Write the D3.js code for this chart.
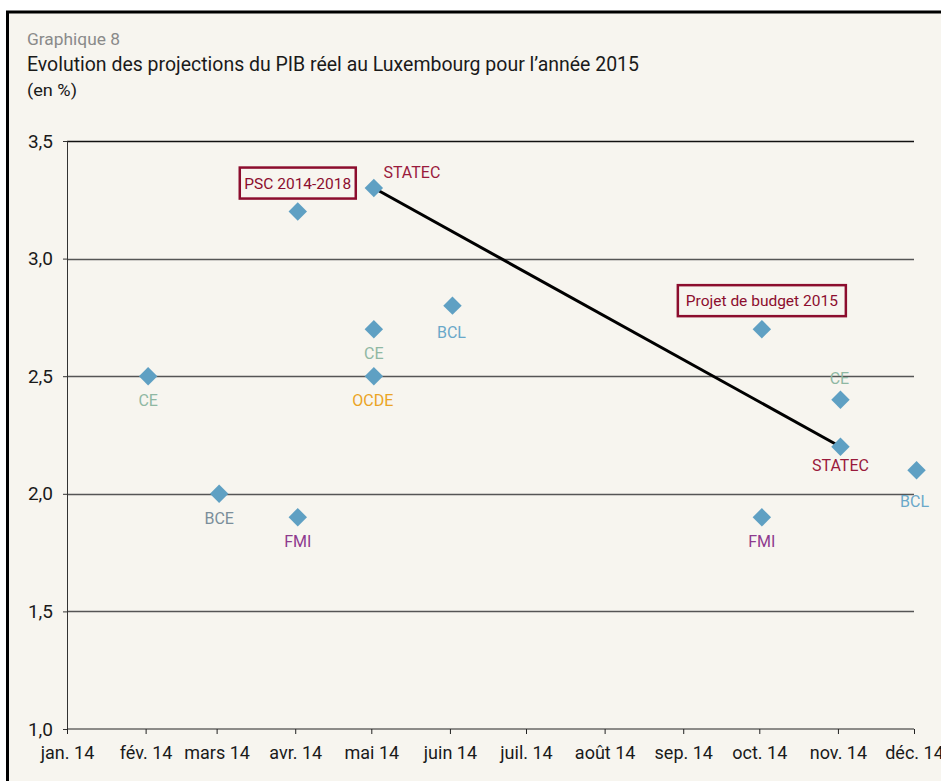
<!DOCTYPE html>
<html lang="fr">
<head>
<meta charset="UTF-8">
<script src="https://d3js.org/d3.v7.min.js"></script>
<title>Graphique 8</title>
<style>
  body { margin: 0; background: #fff; }
  text { font-family: Roboto, "DejaVu Sans", sans-serif; font-weight: 400; }
</style>
</head>
<body>
<svg class="chart"></svg>
<script>
// projections du PIB réel 2015 (en %)
const dates = ["2014-02-02", "2014-03-02", "2014-04-02", "2014-04-02", "2014-05-02", "2014-05-02", "2014-05-02",
               "2014-06-02", "2014-10-02", "2014-10-02", "2014-11-02", "2014-11-02", "2014-12-02"];
const values = [2.5, 2.0, 3.2, 1.9, 3.3, 2.7, 2.5, 2.8, 2.7, 1.9, 2.4, 2.2, 2.1];
const sources = ["CE", "BCE", "PSC", "FMI", "STATEC", "CE", "OCDE", "BCL", "PDB", "FMI", "CE", "STATEC", "BCL"];
const statecLine = [["2014-05-02", 3.3], ["2014-11-02", 2.2]];
const monthLabels = ["jan. 14", "fév. 14", "mars 14", "avr. 14", "mai 14", "juin 14",
                     "juil. 14", "août 14", "sep. 14", "oct. 14", "nov. 14", "déc. 14"];
const yTicks = [1.0, 1.5, 2.0, 2.5, 3.0, 3.5];

const colors = {
    CE: "#8fb8a3", BCE: "#7b8e9a", FMI: "#8e3a8e", STATEC: "#9a1a3c",
    OCDE: "#eba424", BCL: "#6aa8c9", PSC: "#8c0d2e", PDB: "#8c0d2e"
};

const width = 941, height = 781;
const margin = {left: 67, right: 27, top: 141, bottom: 52};
const parse = d3.timeParse("%Y-%m-%d");

const svg = d3.select(".chart").attr("width", width).attr("height", height);

// frame
svg.append("rect").attr("x", 7.5).attr("y", 12).attr("width", 950).attr("height", 800)
    .attr("fill", "#f7f5ef").attr("stroke", "#000").attr("stroke-width", 3);

svg.append("text").attr("x", 27).attr("y", 45).attr("font-size", 16).attr("fill", "#8a8a8a")
    .attr("textLength", 93).attr("lengthAdjust", "spacingAndGlyphs").text("Graphique 8");
svg.append("text").attr("x", 27).attr("y", 71).attr("font-size", 19.5).attr("fill", "#1a1a1a")
    .attr("textLength", 612).attr("lengthAdjust", "spacingAndGlyphs")
    .text("Evolution des projections du PIB réel au Luxembourg pour l’année 2015");
svg.append("text").attr("x", 27).attr("y", 96).attr("font-size", 17).attr("fill", "#1a1a1a")
    .attr("textLength", 50).attr("lengthAdjust", "spacingAndGlyphs").text("(en %)");

const x = d3.scaleTime()
    .domain([parse("2014-01-01"), parse("2014-12-01")])
    .range([margin.left, width - margin.right]);
const y = d3.scaleLinear().domain([1, 3.5]).range([height - margin.bottom, margin.top]);

// grid
svg.append("g").selectAll("line").data(yTicks.slice(1)).enter().append("line")
    .attr("x1", margin.left).attr("x2", 914)
    .attr("y1", d => Math.round(y(d)) + 0.5).attr("y2", d => Math.round(y(d)) + 0.5)
    .attr("stroke", d => d === 3.5 ? "#111" : "#555").attr("stroke-width", 1.3);

// y axis
const yAxis = svg.append("g").attr("transform", `translate(${margin.left},0)`)
    .call(d3.axisLeft(y).tickValues(yTicks).tickSize(4).tickPadding(10)
        .tickFormat(d => d3.format(".1f")(d).replace(".", ",")));
yAxis.select(".domain").attr("stroke", "#333");
yAxis.selectAll(".tick line").attr("stroke", "#333");
yAxis.selectAll("text").attr("font-size", 19).attr("fill", "#1a1a1a")
    .style("font-family", "Roboto, sans-serif");

// x axis
const months = monthLabels.map((m, i) => new Date(2014, i, 1));
const xAxis = svg.append("g").attr("transform", `translate(0,${y(1)})`)
    .call(d3.axisBottom(x).tickValues(months).tickSize(5).tickPadding(12)
        .tickFormat((d, i) => monthLabels[i]));
xAxis.select(".domain").attr("stroke", "#222").attr("d", `M${margin.left},0H914`);
xAxis.selectAll(".tick line").attr("stroke", "#222");
xAxis.selectAll("text").attr("font-size", 18).attr("fill", "#1a1a1a")
    .style("font-family", "Roboto, sans-serif");

// STATEC line
svg.append("path")
    .datum(statecLine)
    .attr("fill", "none").attr("stroke", "#000").attr("stroke-width", 3)
    .attr("d", d3.line().x(d => x(parse(d[0]))).y(d => y(d[1])));

// points
const pts = dates.map((d, i) => ({date: parse(d), value: values[i], src: sources[i]}));
svg.append("g").selectAll("path").data(pts).enter().append("path")
    .attr("d", d3.symbol().type(d3.symbolSquare).size(170))
    .attr("transform", d => `translate(${x(d.date)},${y(d.value)}) rotate(45)`)
    .attr("fill", "#5fa0c3");

// labels: [index, dx, dy, text]
const labels = [
    [0, 0, 30, "CE"], [1, 0, 30, "BCE"], [3, 0, 30, "FMI"], [4, 38, -10, "STATEC"],
    [5, 0, 30, "CE"], [6, -1, 30, "OCDE"], [7, -1, 32, "BCL"], [9, 0, 30, "FMI"],
    [10, -1, -16, "CE"], [11, 0, 24, "STATEC"], [12, -2, 37, "BCL"]
];
svg.append("g").selectAll("text").data(labels).enter().append("text")
    .attr("x", d => x(pts[d[0]].date) + d[1])
    .attr("y", d => y(pts[d[0]].value) + d[2])
    .attr("text-anchor", "middle").attr("font-size", 16)
    .attr("fill", d => colors[pts[d[0]].src])
    .text(d => d[3]);

// boxed labels
const boxes = [[2, "PSC 2014-2018", 116], [8, "Projet de budget 2015", 168]];
boxes.forEach(b => {
    const p = pts[b[0]];
    const cx = x(p.date), cy = y(p.value) - 29;
    svg.append("rect").attr("x", cx - b[2] / 2).attr("y", cy - 15).attr("width", b[2]).attr("height", 31)
        .attr("fill", "none").attr("stroke", colors.PSC).attr("stroke-width", 2.5);
    svg.append("text").attr("x", cx).attr("y", cy + 6).attr("text-anchor", "middle")
        .attr("font-size", 15.5).attr("fill", colors.PSC).text(b[1]);
});
</script>
</body>
</html>
